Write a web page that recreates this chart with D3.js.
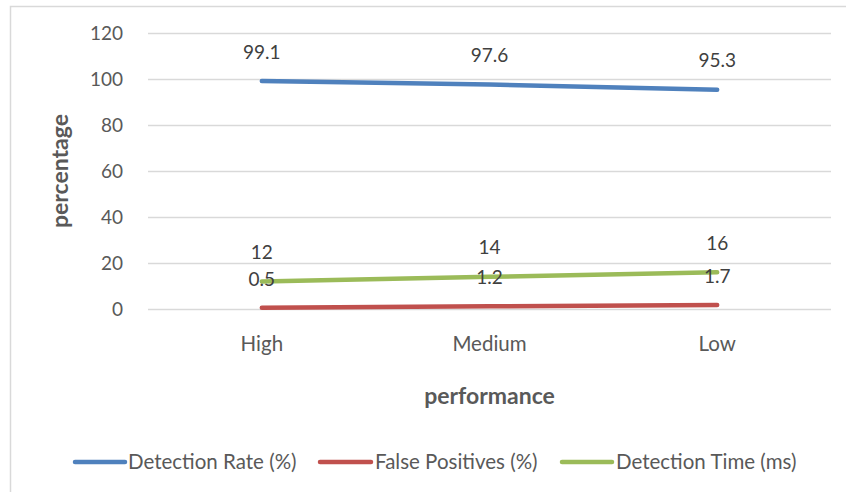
<!DOCTYPE html>
<html>
<head>
<meta charset="utf-8">
<script src="https://cdn.jsdelivr.net/npm/d3@7/dist/d3.min.js"></script>
<style>
  html, body { margin: 0; padding: 0; background: #fff; }
  svg { display: block; }
  text { font-family: Lato, "Open Sans", sans-serif; fill: #595959; }
</style>
</head>
<body>
<svg id="chart" width="846" height="492"></svg>
<script>
const categories = ["High", "Medium", "Low"];
const seriesNames = ["Detection Rate (%)", "False Positives (%)", "Detection Time (ms)"];
const detectionRate = [99.1, 97.6, 95.3];
const falsePositives = [0.5, 1.2, 1.7];
const detectionTime = [12, 14, 16];
const yTicks = [0, 20, 40, 60, 80, 100, 120];
const colors = ["#4F81BD", "#C0504D", "#9BBB59"];

const series = [
  { name: seriesNames[0], values: detectionRate, color: colors[0] },
  { name: seriesNames[1], values: falsePositives, color: colors[1] },
  { name: seriesNames[2], values: detectionTime, color: colors[2] }
];

const svg = d3.select("#chart");
const W = 846, H = 492;
const plotL = 148, plotR = 831, plotT = 33, plotB = 309;
const numFs = 19, txtFs = 20.5, titleFs = 23;

// outer frame (only top and left edges visible)
svg.append("rect").attr("x", 10.5).attr("y", 6.5).attr("width", W + 20).attr("height", H + 20)
  .attr("fill", "none").attr("stroke", "#D9D9D9").attr("stroke-width", 1.5);

const x = d3.scaleBand().domain(categories).range([plotL, plotR]).paddingInner(0).paddingOuter(0);
const y = d3.scaleLinear().domain([0, 120]).range([plotB, plotT]);

// y axis with gridlines
const yAxis = d3.axisLeft(y).tickValues(yTicks).tickSize(-(plotR - plotL)).tickPadding(25);
const yg = svg.append("g").attr("transform", `translate(${plotL},0)`).call(yAxis);
yg.select(".domain").remove();
yg.selectAll(".tick line").attr("stroke", "#D9D9D9").attr("stroke-width", 1.3);
yg.selectAll(".tick text").style("font-size", numFs + "px").style("font-family", "Lato").attr("fill", "#595959");

// x axis labels
const xAxis = d3.axisBottom(x).tickSize(0).tickPadding(27);
const xg = svg.append("g").attr("transform", `translate(0,${plotB})`).call(xAxis);
xg.select(".domain").remove();
xg.selectAll(".tick text").style("font-size", txtFs + "px").style("font-family", "Lato").attr("fill", "#595959");

// axis titles
svg.append("text").attr("x", (plotL + plotR) / 2).attr("y", 396).attr("dy", "0.35em")
  .attr("text-anchor", "middle").style("font-size", titleFs + "px").style("font-weight", "bold").text("performance");
svg.append("text").attr("transform", `translate(60,171) rotate(-90)`).attr("dy", "0.35em")
  .attr("text-anchor", "middle").style("font-size", titleFs + "px").style("font-weight", "bold").text("percentage");

// lines
const line = d3.line().x((d, i) => x(categories[i]) + x.bandwidth() / 2).y(d => y(d));
series.forEach(s => {
  svg.append("path").datum(s.values).attr("d", line)
    .attr("fill", "none").attr("stroke", s.color).attr("stroke-width", 4.5)
    .attr("stroke-linecap", "round").attr("stroke-linejoin", "round");
});

// data labels
series.forEach(s => {
  svg.append("g").selectAll("text").data(s.values).join("text")
    .attr("x", (d, i) => x(categories[i]) + x.bandwidth() / 2)
    .attr("y", d => y(d) - 29)
    .attr("dy", "0.35em")
    .attr("text-anchor", "middle")
    .style("font-size", numFs + "px")
    .style("fill", "#404040")
    .text(d => d);
});

// legend
const legendItems = [
  { x1: 75, x2: 125, tx: 128 },
  { x1: 320, x2: 371, tx: 375 },
  { x1: 562, x2: 612, tx: 616 }
];
const ly = 462;
series.forEach((s, i) => {
  const it = legendItems[i];
  svg.append("line").attr("x1", it.x1).attr("x2", it.x2).attr("y1", ly).attr("y2", ly)
    .attr("stroke", s.color).attr("stroke-width", 4.5).attr("stroke-linecap", "round");
  svg.append("text").attr("x", it.tx).attr("y", ly).attr("dy", "0.35em")
    .style("font-size", txtFs + "px").text(s.name);
});
</script>
</body>
</html>
